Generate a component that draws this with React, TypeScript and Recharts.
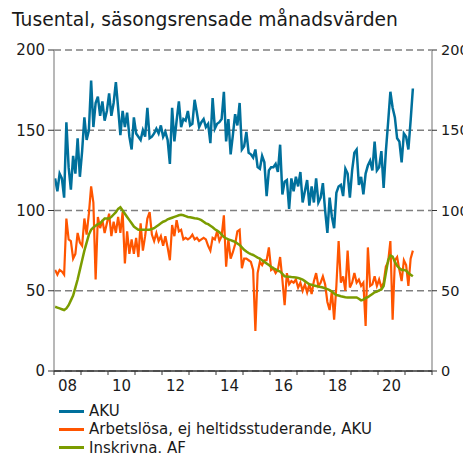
import React from 'react';
import { LineChart, Line, XAxis, YAxis, CartesianGrid } from 'recharts';

const START_YEAR = 2008;
const YEAR_TICKS = [2008, 2009, 2010, 2011, 2012, 2013, 2014, 2015, 2016, 2017, 2018, 2019, 2020, 2021, 2022];
const LABEL_YEARS = [2008, 2010, 2012, 2014, 2016, 2018, 2020];
const Y_TICKS = [0, 50, 100, 150, 200];

const SERIES_NAMES = ['AKU', 'Arbetslösa, ej heltidsstuderande, AKU', 'Inskrivna, AF'];
const COLORS = ['#00709c', '#ff5500', '#7b9c00'];

const aku = [
  120, 112, 123, 120, 108, 155, 127, 113, 134, 123, 145, 121, 137, 158, 144, 150, 181, 152, 167, 171,
  159, 168, 156, 162, 173, 159, 167, 180, 164, 147, 162, 152, 161, 146, 138, 158, 148, 146, 144, 150,
  146, 164, 145, 146, 148, 151, 148, 153, 146, 149, 144, 129, 164, 143, 156, 168, 152, 157, 156, 162,
  153, 154, 169, 161, 152, 155, 157, 152, 154, 142, 170, 151, 154, 155, 157, 174, 143, 157, 135, 147,
  160, 153, 167, 138, 140, 149, 136, 135, 133, 138, 127, 126, 134, 130, 109, 125, 127, 127, 129, 124,
  141, 110, 118, 119, 101, 120, 112, 121, 115, 124, 105, 112, 119, 103, 115, 105, 120, 105, 108, 117,
  100, 86, 108, 96, 89, 111, 115, 116, 109, 126, 123, 108, 125, 136, 138, 116, 121, 110, 123, 128,
  131, 125, 143, 125, 127, 137, 114, 137, 155, 174, 164, 158, 145, 143, 130, 148, 146, 138, 156, 176,
];

const arbetslosa = [
  63, 60, 63, 62, 60, 95, 82, 81, 70, 73, 86, 80, 78, 95, 85, 98, 115, 105, 57, 96,
  89, 94, 86, 92, 98, 84, 93, 86, 96, 86, 99, 67, 87, 73, 82, 73, 83, 71, 92, 75,
  84, 95, 99, 85, 81, 86, 81, 84, 78, 84, 77, 69, 91, 84, 94, 87, 88, 82, 83, 82,
  83, 85, 82, 83, 81, 82, 83, 82, 78, 75, 83, 82, 87, 81, 84, 97, 65, 82, 70, 74,
  79, 87, 88, 64, 70, 70, 69, 68, 63, 25, 61, 68, 66, 69, 69, 77, 63, 64, 61, 63,
  71, 57, 41, 61, 54, 56, 55, 57, 52, 55, 50, 54, 49, 54, 48, 56, 61, 53, 55, 59,
  54, 43, 38, 50, 32, 53, 81, 55, 59, 50, 75, 52, 55, 61, 55, 57, 53, 55, 28, 77,
  53, 54, 59, 53, 57, 52, 55, 65, 68, 81, 32, 69, 71, 63, 56, 69, 66, 53, 70, 75,
];

const inskrivna = [
  40, 39.5, 39, 38.5, 38, 39, 41, 44, 47, 52, 57, 63, 69, 75, 80, 85, 88, 89.5, 90.5, 91.5,
  92, 93.5, 95, 95, 95, 96, 97.5, 99, 101, 102, 100, 98, 96, 94, 92, 90, 89, 88, 88, 88,
  88, 88, 88, 88.5, 89, 90, 91, 92, 93, 93.5, 94.5, 95, 95.5, 96, 96.5, 97, 97.3, 97, 96.5, 96,
  95.8, 95.5, 95.2, 95, 94.6, 94, 93, 92, 91.5, 90.5, 89.5, 88.3, 87.5, 86.5, 85, 83.5, 82.7, 82, 81.5, 81,
  80.5, 79.5, 78.5, 77, 75.5, 74.4, 73.5, 72.8, 72.3, 71.5, 70.7, 70, 69, 68, 67, 66, 65, 64, 63.3, 62.5,
  62, 60.5, 59, 58.8, 58.7, 58.5, 58.4, 58.3, 58, 57.5, 57, 56, 55, 54, 53.7, 53.3, 53, 52.6, 52.3, 52,
  51.5, 51, 50.4, 49.5, 48.3, 47.3, 47, 46.6, 46.3, 46, 45.8, 45.8, 45.8, 45.8, 45.8, 45, 44, 44.5, 45.5, 46,
  47, 48, 49, 49.5, 50.2, 50.8, 53, 61, 69, 72, 71.3, 68, 65.5, 64, 63, 63, 62.5, 61, 60, 59,
];

const data = aku.map((v, i) => ({
  t: START_YEAR + (i + 0.5) / 12,
  aku: v,
  arb: arbetslosa[i],
  ins: inskrivna[i],
}));

const FONT = '"DejaVu Sans", Verdana, sans-serif';
const TEXT = '#1a1a1a';

const XTick = (props: any) => {
  const { x, y, payload } = props;
  if (!LABEL_YEARS.includes(payload.value)) return null;
  const halfYear = 13.5;
  return (
    <text x={x + halfYear} y={y + 14} textAnchor="middle" fontSize={15} fontFamily={FONT} fill={TEXT}>
      {String(payload.value % 100).padStart(2, '0')}
    </text>
  );
};

const RightTick = (props: any) => {
  const { x, y, payload } = props;
  return (
    <text x={x + 2} y={y} dy="0.36em" textAnchor="start" fontSize={14.5} fontFamily={FONT} fill={TEXT}>
      {payload.value}
    </text>
  );
};

const LeftTick = (props: any) => {
  const { x, y, payload } = props;
  return (
    <text x={x - 1} y={y} dy="0.36em" textAnchor="end" fontSize={15} fontFamily={FONT} fill={TEXT}>
      {payload.value}
    </text>
  );
};

export default function App() {
  return (
    <div style={{ position: 'relative', width: 463, height: 445, fontFamily: FONT, color: TEXT }}>
      <style>{'html { overflow: hidden; }'}</style>
      <div style={{ position: 'absolute', left: 4, top: 1, fontSize: 18.7, lineHeight: '22px', whiteSpace: 'nowrap' }}>
        Tusental, säsongsrensade månadsvärden
      </div>
      <LineChart
        width={463}
        height={392}
        data={data}
        margin={{ top: 42, right: 0, left: 0, bottom: 0 }}
        style={{ overflow: 'visible' }}
      >
        <CartesianGrid vertical={false} stroke="#808080" strokeWidth={1.5} strokeDasharray="7 4" yAxisId="left" />
        <YAxis
          yAxisId="left"
          orientation="left"
          domain={[0, 200]}
          ticks={Y_TICKS}
          interval={0}
          width={46}
          tickSize={6}
          axisLine={{ stroke: '#a0a0a0', strokeWidth: 1.5 }}
          tickLine={{ stroke: '#333' }}
          tick={<LeftTick />}
        />
        <YAxis
          yAxisId="right"
          orientation="right"
          domain={[0, 200]}
          ticks={Y_TICKS}
          interval={0}
          width={39}
          tickSize={5}
          axisLine={{ stroke: '#a0a0a0', strokeWidth: 1.5 }}
          tickLine={{ stroke: '#333' }}
          tick={<RightTick />}
        />
        <XAxis
          dataKey="t"
          type="number"
          domain={[2008, 2022]}
          ticks={YEAR_TICKS}
          interval={0}
          tick={<XTick />}
          tickSize={4}
          axisLine={{ stroke: '#333', strokeWidth: 1.5 }}
          tickLine={{ stroke: '#333' }}
          height={29}
          allowDataOverflow
        />
        <Line yAxisId="left" dataKey="aku" name={SERIES_NAMES[0]} stroke={COLORS[0]} strokeWidth={2.5} dot={false} isAnimationActive={false} />
        <Line yAxisId="left" dataKey="arb" name={SERIES_NAMES[1]} stroke={COLORS[1]} strokeWidth={2.2} dot={false} isAnimationActive={false} />
        <Line yAxisId="right" dataKey="ins" name={SERIES_NAMES[2]} stroke={COLORS[2]} strokeWidth={2.5} dot={false} isAnimationActive={false} />
      </LineChart>
      <div style={{ position: 'absolute', left: 51, top: 394, fontSize: 15 }}>
        {SERIES_NAMES.map((n, i) => (
          <div key={n} style={{ display: 'flex', alignItems: 'center', height: 18.3, lineHeight: '18px', whiteSpace: 'nowrap' }}>
            <span style={{ display: 'inline-block', width: 25, height: 3, background: COLORS[i], marginRight: 5 }} />
            <span>{n}</span>
          </div>
        ))}
      </div>
    </div>
  );
}
